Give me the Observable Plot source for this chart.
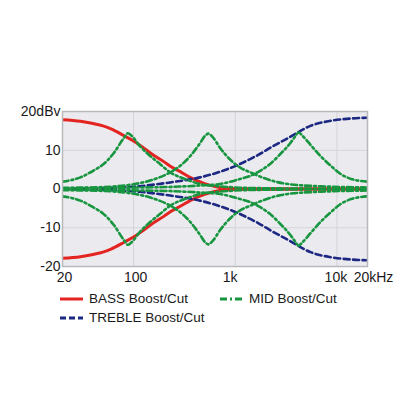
<!DOCTYPE html>
<html><head><meta charset="utf-8">
<script src="https://cdn.jsdelivr.net/npm/d3@7"></script>
<script src="https://cdn.jsdelivr.net/npm/@observablehq/plot@0.6"></script>
<style>
body{margin:0;background:#fff;width:416px;height:416px;overflow:hidden;font-family:"Liberation Sans",Arial,sans-serif;}
#chart{position:absolute;left:0;top:90px;}
.leg{position:absolute;font-size:13.5px;color:#1a1a1a;line-height:16px;display:flex;align-items:center;white-space:nowrap;}
.leg svg{margin-right:6px;display:block;}
</style></head><body>
<div id="chart"></div>
<div id="legend"></div>
<script>
// ---- data ----
const xTicks = [20, 100, 1000, 10000, 20000];
const xTickLabels = ["20", "100", "1k", "10k", "20kHz"];
const yTicks = [-20, -10, 0, 10, 20];
const yTickLabels = ["-20", "-10", "0", "10", "20dBv"];

const bassFreq  = [20, 30, 40, 50, 60, 80, 100, 120, 150, 200, 230, 300, 360, 500, 700, 1000, 1500, 20000];
const bassBoost = [17.9, 17.5, 16.9, 16.3, 15.5, 13.8, 12.4, 11.0, 9.1, 7.0, 5.9, 4.2, 3.0, 1.4, 0.4, 0.1, 0, 0];
const bassCut   = [-17.9, -17.5, -16.9, -16.3, -15.5, -13.8, -12.4, -11.0, -9.1, -7.0, -5.9, -4.2, -3.0, -1.4, -0.4, -0.1, 0, 0];

const trebleFreq  = [20, 50, 100, 230, 450, 700, 1100, 1760, 2200, 3500, 5500, 8700, 13800, 20000];
const trebleBoost = [0, 0.2, 0.6, 1.7, 3.0, 4.4, 6.4, 9.1, 10.6, 13.5, 16.3, 17.6, 18.2, 18.4];
const trebleCut   = [0, -0.2, -0.6, -1.7, -3.0, -4.4, -6.4, -9.1, -10.6, -13.5, -16.3, -17.6, -18.2, -18.4];

const mid1Freq  = [20, 30, 40, 50, 64, 80, 88, 95, 116, 146, 183, 229, 320, 450, 700, 1000, 2000, 20000];
const mid1Boost = [1.9, 3.0, 4.7, 6.3, 9.3, 13.1, 14.4, 13.8, 11.0, 8.5, 6.4, 4.3, 2.6, 1.3, 0.7, 0.4, 0.2, 0];
const mid1Cut   = [-1.9, -3.0, -4.7, -6.3, -9.3, -13.1, -14.4, -13.8, -11.0, -8.5, -6.4, -4.3, -2.6, -1.3, -0.7, -0.4, -0.2, 0];

const mid2Freq  = [20, 50, 93, 146, 229, 288, 361, 450, 508, 545, 600, 710, 890, 1120, 1410, 1760, 2480, 3470, 7000, 20000];
const mid2Boost = [0.3, 0.5, 1.1, 2.2, 4.3, 6.0, 8.5, 11.8, 13.8, 14.3, 13.4, 10.6, 7.6, 5.5, 4.3, 3.2, 1.9, 1.2, 0.7, 0.4];
const mid2Cut   = [-0.3, -0.5, -1.1, -2.2, -4.3, -6.0, -8.5, -11.8, -13.8, -14.3, -13.4, -10.6, -7.6, -5.5, -4.3, -3.2, -1.9, -1.2, -0.7, -0.4];

const mid3Freq  = [20, 200, 450, 710, 1120, 1410, 1760, 2190, 2750, 3470, 3900, 4200, 4600, 5500, 6900, 8700, 11000, 13800, 20000];
const mid3Boost = [0.2, 0.5, 0.9, 1.3, 2.6, 3.4, 4.7, 6.4, 8.9, 11.8, 13.6, 14.6, 13.7, 11.4, 8.5, 6.0, 3.8, 2.6, 1.9];
const mid3Cut   = [-0.2, -0.5, -0.9, -1.3, -2.6, -3.4, -4.7, -6.4, -8.9, -11.8, -13.6, -14.6, -13.7, -11.4, -8.5, -6.0, -3.8, -2.6, -1.9];

// ---- build rows ----
function rows(id, freqs, vals) { return freqs.map((f, i) => ({id, f, db: vals[i]})); }
const bassRows = [...rows("bb", bassFreq, bassBoost), ...rows("bc", bassFreq, bassCut)];
const trebleRows = [...rows("tb", trebleFreq, trebleBoost), ...rows("tc", trebleFreq, trebleCut)];
const midRows = [
  ...rows("m1b", mid1Freq, mid1Boost), ...rows("m1c", mid1Freq, mid1Cut),
  ...rows("m2b", mid2Freq, mid2Boost), ...rows("m2c", mid2Freq, mid2Cut),
  ...rows("m3b", mid3Freq, mid3Boost), ...rows("m3c", mid3Freq, mid3Cut)
];

const RED = "#e42421", BLUE = "#1d2883", GREEN = "#17953f";
// x tick labels drawn as text marks in the bottom margin, with small per-label nudges
const xNudge = [2, 2, -5, -1, 6];
const xLabelMarks = xTicks.map((t, i) => Plot.text([t], {
  x: (d) => d, text: () => xTickLabels[i], frameAnchor: "bottom", lineAnchor: "top",
  dy: 6, dx: xNudge[i], fontSize: 14, fill: "#1a1a1a"
}));

const chart = Plot.plot({
  width: 416,
  height: 200,
  marginLeft: 62,
  marginRight: 49,
  marginTop: 21,
  marginBottom: 24,
  style: {fontFamily: "'Liberation Sans', Arial, sans-serif", fontSize: "14px", color: "#1a1a1a", background: "transparent", overflow: "visible"},
  x: {type: "log", domain: [20, 20000], axis: null},
  y: {domain: [-20, 20], ticks: yTicks, tickFormat: (d) => yTickLabels[yTicks.indexOf(d)], tickSize: 0, tickPadding: 2, label: null},
  marks: [
    Plot.frame({fill: "#ebebef", stroke: null}),
    Plot.ruleX([100, 1000, 10000], {stroke: "#d4d4d9", strokeWidth: 1}),
    Plot.ruleY([-10, 0, 10], {stroke: "#d4d4d9", strokeWidth: 1}),
    Plot.line(bassRows, {x: "f", y: "db", z: "id", stroke: RED, strokeWidth: 3, curve: "monotone-x", clip: true}),
    Plot.line(trebleRows, {x: "f", y: "db", z: "id", stroke: BLUE, strokeWidth: 2.6, strokeDasharray: "6,3.5", curve: "monotone-x", clip: true}),
    Plot.line(midRows, {x: "f", y: "db", z: "id", stroke: GREEN, strokeWidth: 2.6, strokeDasharray: "6,3,2,3", curve: "monotone-x", clip: true}),
    Plot.frame({stroke: "#b9b9bc", strokeWidth: 1.5}),
    ...xLabelMarks
  ]
});
document.getElementById("chart").appendChild(chart);

// ---- legend (HTML, below the SVG) ----
const legendItems = [
  {label: "BASS Boost/Cut", color: RED, dash: null, w: 3, left: 60, top: 291},
  {label: "MID Boost/Cut", color: GREEN, dash: "7,3,2,3", w: 3, left: 220, top: 291},
  {label: "TREBLE Boost/Cut", color: BLUE, dash: "6,3", w: 3, left: 60, top: 310}
];
const legend = document.getElementById("legend");
for (const it of legendItems) {
  const d = document.createElement("div");
  d.className = "leg";
  d.style.left = it.left + "px";
  d.style.top = it.top + "px";
  d.innerHTML = `<svg width="23" height="6"><line x1="0" x2="23" y1="3" y2="3" stroke="${it.color}" stroke-width="${it.w}" ${it.dash ? `stroke-dasharray="${it.dash}"` : ""}/></svg><span>${it.label}</span>`;
  legend.appendChild(d);
}
</script></body></html>
